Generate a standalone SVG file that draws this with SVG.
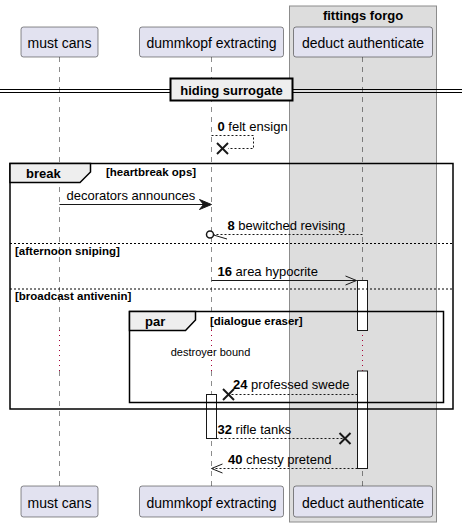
<svg xmlns="http://www.w3.org/2000/svg" width="468" height="527" viewBox="0 0 468 527">
<style>
text{font-family:"Liberation Sans",Arial,sans-serif;fill:#000}
.pt{font-size:14px;text-anchor:middle}
.msg{font-size:13px}
.b{font-weight:bold}
.cond{font-size:11.5px;font-weight:bold}
.pbox{fill:#E2E2F0;stroke:#181818;stroke-width:0.5}
.life{stroke:#181818;stroke-width:0.5;stroke-dasharray:5,5;fill:none}
.delay{stroke:#A80036;stroke-width:1;stroke-dasharray:1,4;fill:none}
.line{stroke:#181818;stroke-width:1;fill:none}
.dash{stroke:#181818;stroke-width:1;stroke-dasharray:2,2;fill:none}
.frame{fill:none;stroke:#000;stroke-width:1.5}
.tab{fill:#EEEEEE;stroke:#000;stroke-width:1.5}
.sep{stroke:#000;stroke-width:1;stroke-dasharray:2,2}
.x{stroke:#181818;stroke-width:2}
.act{fill:#fff;stroke:#181818;stroke-width:1}
</style>
<g id="group-fittings-forgo">
<rect x="289.5" y="6" width="147" height="516" fill="#DDDDDD" stroke="#8C8C8C" stroke-width="1"/>
<text x="363" y="19.5" class="b" font-size="13" text-anchor="middle">fittings forgo</text>
</g>
<g id="lifelines">
<line class="life" x1="59.5" y1="57" x2="59.5" y2="330"/>
<line class="delay" x1="59.5" y1="330" x2="59.5" y2="371"/>
<line class="life" x1="59.5" y1="371" x2="59.5" y2="486"/>
<line class="life" x1="211.5" y1="57" x2="211.5" y2="330"/>
<line class="delay" x1="211.5" y1="330" x2="211.5" y2="371"/>
<line class="life" x1="211.5" y1="371" x2="211.5" y2="486"/>
<line class="life" x1="362.5" y1="57" x2="362.5" y2="330"/>
<line class="delay" x1="362.5" y1="330" x2="362.5" y2="371"/>
<line class="life" x1="362.5" y1="371" x2="362.5" y2="486"/>
</g>
<g id="p-must-cans">
<rect class="pbox" x="21" y="27" width="77" height="30" rx="2.5"/>
<text class="pt" x="59.5" y="47.5">must cans</text>
<rect class="pbox" x="21" y="486" width="77" height="31" rx="2.5"/>
<text class="pt" x="59.5" y="507.5">must cans</text>
</g>
<g id="p-dummkopf-extracting">
<rect class="pbox" x="139.5" y="27" width="144" height="30" rx="2.5"/>
<text class="pt" x="211.5" y="47.5">dummkopf extracting</text>
<rect class="pbox" x="139.5" y="486" width="144" height="31" rx="2.5"/>
<text class="pt" x="211.5" y="507.5">dummkopf extracting</text>
</g>
<g id="p-deduct-authenticate">
<rect class="pbox" x="293.5" y="27" width="139" height="30" rx="2.5"/>
<text class="pt" x="363" y="47.5">deduct authenticate</text>
<rect class="pbox" x="293.5" y="486" width="139" height="31" rx="2.5"/>
<text class="pt" x="363" y="507.5">deduct authenticate</text>
</g>
<g id="divider">
<line x1="0" y1="89.5" x2="462" y2="89.5" stroke="#000" stroke-width="1"/>
<line x1="0" y1="92.5" x2="462" y2="92.5" stroke="#000" stroke-width="1"/>
<rect x="170.5" y="78.5" width="122" height="22" fill="#EEEEEE" stroke="#000" stroke-width="2"/>
<text x="231.5" y="95" class="b" font-size="13" text-anchor="middle">hiding surrogate</text>
</g>
<g id="activations">
<rect class="act" x="357.5" y="280.5" width="10" height="50"/>
<rect class="act" x="357.5" y="371" width="10" height="97.5"/>
<rect class="act" x="206.5" y="394.5" width="10" height="44"/>
</g>
<g id="frame-break">
<rect class="frame" x="10" y="163.5" width="443" height="245.5"/>
<polygon class="tab" points="10,163.5 90.5,163.5 90.5,172 80,182.5 10,182.5"/>
<text x="26" y="177.5" class="b" font-size="13">break</text>
<text x="106" y="176" class="cond">[heartbreak ops]</text>
<line class="sep" x1="10" y1="243.5" x2="453" y2="243.5"/>
<text x="15" y="254.5" class="cond">[afternoon sniping]</text>
<line class="sep" x1="10" y1="289" x2="453" y2="289"/>
<text x="15" y="299.5" class="cond">[broadcast antivenin]</text>
</g>
<g id="frame-par">
<rect class="frame" x="129.5" y="311.5" width="314" height="91"/>
<polygon class="tab" points="129.5,311.5 195.5,311.5 195.5,320 185.5,330.5 129.5,330.5"/>
<text x="145" y="325.5" class="b" font-size="13">par</text>
<text x="210" y="324.5" class="cond">[dialogue eraser]</text>
<text x="210.5" y="355.5" font-size="11" text-anchor="middle">destroyer bound</text>
</g>
<g id="connectors">
<polyline class="dash" points="211.5,135.5 253.5,135.5 253.5,148.5 228,148.5"/>
<line class="x" x1="217" y1="143" x2="228" y2="154"/><line class="x" x1="228" y1="143" x2="217" y2="154"/>
<text x="217.5" y="131" class="msg"><tspan class="b">0</tspan> felt ensign</text>

<line class="line" x1="59.5" y1="204.5" x2="208" y2="204.5"/>
<polygon points="199.5,199.5 211.5,204.5 199.5,209.5 203.5,204.5" fill="#181818" stroke="#181818" stroke-width="1"/>
<text x="66.5" y="199.5" class="msg">decorators announces</text>

<line class="dash" x1="362.5" y1="234.5" x2="213.5" y2="234.5"/>
<circle cx="210" cy="234.5" r="3.5" fill="none" stroke="#181818" stroke-width="1.5"/>
<line x1="213.5" y1="235" x2="227" y2="239" stroke="#181818" stroke-width="1"/>
<text x="227.5" y="230" class="msg"><tspan class="b">8</tspan> bewitched revising</text>

<line class="line" x1="211.5" y1="280.5" x2="356.5" y2="280.5"/>
<polyline points="345.5,276 356.5,280.5 345.5,285" fill="none" stroke="#181818" stroke-width="1"/>
<text x="217.5" y="275.5" class="msg"><tspan class="b">16</tspan> area hypocrite</text>

<line class="dash" x1="357.5" y1="394.5" x2="229" y2="394.5"/>
<line class="x" x1="223" y1="389" x2="234" y2="400"/><line class="x" x1="234" y1="389" x2="223" y2="400"/>
<text x="233" y="389" class="msg"><tspan class="b">24</tspan> professed swede</text>

<line class="dash" x1="216.5" y1="438.5" x2="345" y2="438.5"/>
<line class="x" x1="339.5" y1="433" x2="350.5" y2="444"/><line class="x" x1="350.5" y1="433" x2="339.5" y2="444"/>
<text x="217.5" y="433.5" class="msg"><tspan class="b">32</tspan> rifle tanks</text>

<line class="dash" x1="357.5" y1="468.5" x2="212.5" y2="468.5"/>
<polyline points="222.5,464 211.5,468.5 222.5,473" fill="none" stroke="#181818" stroke-width="1"/>
<text x="228" y="463.5" class="msg"><tspan class="b">40</tspan> chesty pretend</text>
</g>
</svg>
